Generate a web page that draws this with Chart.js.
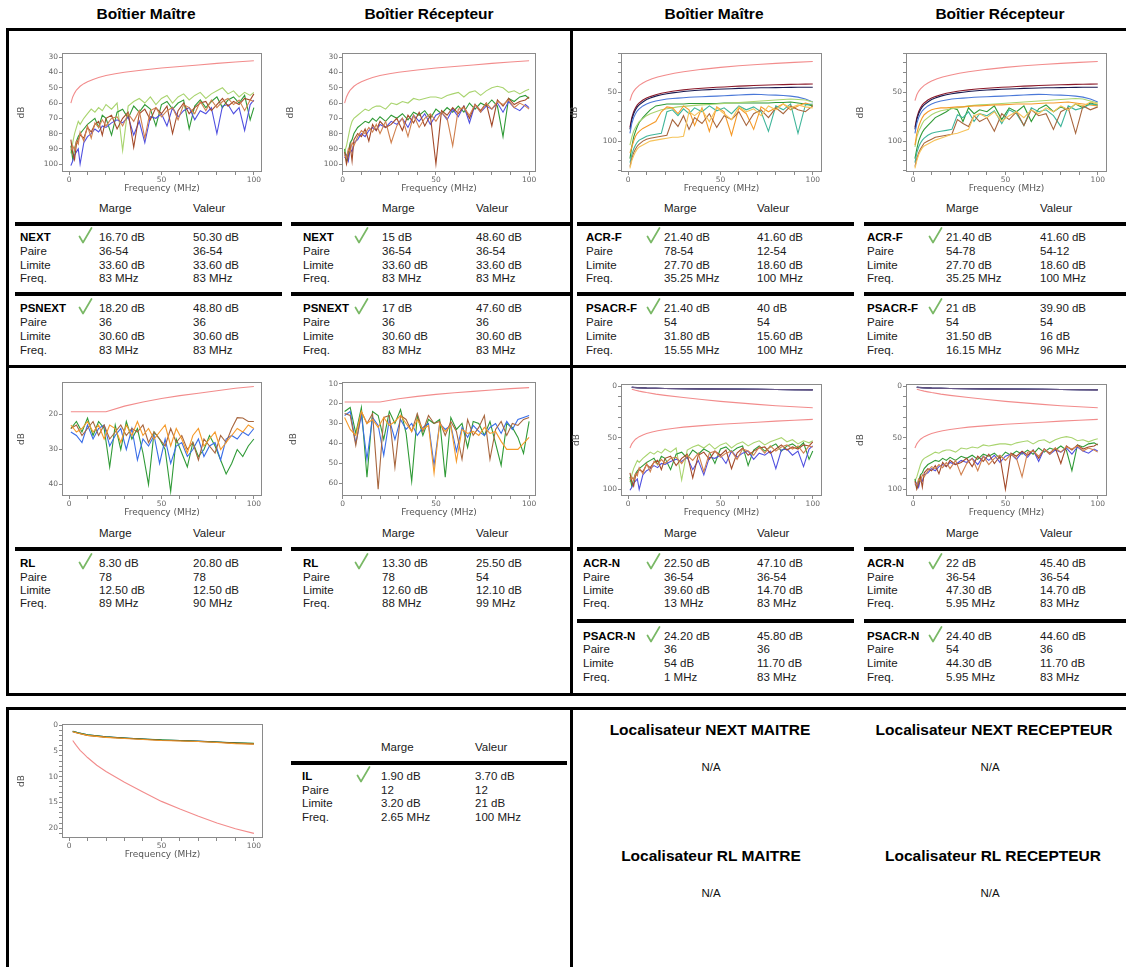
<!DOCTYPE html>
<html>
<head>
<meta charset="utf-8">
<title>Rapport de certification</title>
<script src="https://cdn.jsdelivr.net/npm/chart.js@4.4.1/dist/chart.umd.min.js"></script>
<style>
  body { margin: 0; width: 1126px; height: 967px; position: relative; overflow: hidden; background: #fff; font-family: "Liberation Sans", Arial, sans-serif; color: #111; }
  .t { position: absolute; white-space: nowrap; font-size: 11.5px; line-height: 14px; color: #1a1a1a; }
  .b { font-weight: bold; color: #000; }
  .h { position: absolute; white-space: nowrap; font-weight: bold; font-size: 15.5px; line-height: 18px; transform: translateX(-50%); color: #000; }
  .na { position: absolute; white-space: nowrap; font-size: 11.5px; line-height: 14px; transform: translateX(-50%); }
  .bar { position: absolute; background: #000; }
  canvas { position: absolute; }
</style>
</head>
<body>
<script>
// ---------- data ----------
// frequency grids (MHz)
var nextFreq = [1, 2, 3, 4, 5, 6, 8, 10, 12, 14, 16, 18, 20, 23, 26, 29, 32, 35, 38, 41, 44, 47, 50, 53, 56, 59, 62, 65, 68, 71, 74, 77, 80, 83, 86, 89, 92, 95, 98, 100];
var acrfFreq = [1, 2, 3, 4, 5, 6, 8, 10, 12, 15, 18, 21, 24, 27, 30, 33, 36, 40, 44, 48, 52, 56, 60, 64, 68, 72, 76, 80, 84, 88, 92, 96, 100];
var rlFreq = [1, 4, 7, 10, 13, 16, 19, 22, 25, 28, 31, 34, 37, 40, 43, 46, 49, 52, 55, 58, 61, 64, 67, 70, 73, 76, 79, 82, 85, 88, 91, 94, 97, 100];
var ilFreq = [2, 5, 10, 20, 30, 40, 50, 60, 70, 80, 90, 100];
var limFreq = [1, 2, 3, 4, 6, 8, 10, 13, 16, 20, 25, 30, 40, 50, 60, 70, 80, 90, 100];
var rlLimFreq = [1, 20, 30, 40, 50, 60, 70, 80, 90, 100];
var ilLimFreq = [2, 3, 4, 6, 8, 10, 15, 20, 30, 40, 50, 60, 70, 80, 90, 100];

// limits (dB)
var nextLimit = [60, 56, 53.5, 51.5, 49, 47.3, 46, 44.5, 43.3, 42, 40.8, 39.8, 38.3, 37, 36, 35.1, 34, 33.1, 32.3];
var acrfLimit = [58.6, 52.6, 49.1, 46.6, 43, 40.5, 38.6, 36.3, 34.5, 32.6, 30.6, 29.1, 26.6, 24.6, 23, 21.7, 20.5, 19.5, 18.6];
var rlLimit = [19.2, 19.2, 17.6, 16.4, 15.4, 14.6, 13.9, 13.2, 12.5, 12];
var ilLimit = [3, 3.5, 4, 4.9, 5.6, 6.3, 7.8, 9, 11.1, 13, 14.8, 16.3, 17.7, 19, 20.1, 21];

// NEXT, boitier maitre
var nextM_lgreen = [93, 86, 80, 76, 72, 74, 70, 67, 64, 66, 63, 65, 61, 64, 60, 91, 62, 59, 57, 60, 56, 61, 57, 55, 60, 56, 54, 58, 55, 53, 57, 54, 52, 50, 54, 52, 56, 53, 55, 53];
var nextM_green = [88, 97, 90, 85, 82, 80, 77, 74, 72, 70, 76, 68, 70, 81, 66, 64, 70, 62, 66, 61, 64, 75, 61, 59, 64, 60, 58, 77, 62, 58, 63, 59, 56, 63, 58, 56, 60, 55, 71, 63];
var nextM_brown = [84, 93, 97, 87, 84, 81, 83, 76, 79, 74, 72, 81, 70, 68, 77, 70, 66, 89, 67, 64, 71, 63, 67, 62, 80, 65, 60, 67, 63, 60, 59, 65, 61, 57, 62, 59, 61, 57, 58, 54];
var nextM_tan = [91, 88, 91, 85, 87, 79, 85, 75, 83, 73, 76, 71, 75, 70, 69, 75, 67, 72, 65, 83, 65, 63, 69, 65, 63, 71, 61, 63, 67, 59, 65, 58, 63, 59, 57, 61, 58, 65, 58, 59];
var nextM_blue = [101, 98, 94, 92, 90, 100, 86, 82, 80, 77, 79, 75, 76, 73, 71, 73, 69, 81, 72, 86, 69, 70, 67, 75, 63, 69, 65, 63, 71, 65, 67, 63, 80, 62, 61, 67, 63, 78, 61, 58];

// NEXT, boitier recepteur
var nextR_lgreen = [92, 88, 82, 76, 72, 70, 68, 66, 64, 65, 63, 62, 62, 64, 60, 61, 59, 60, 57, 58, 57, 56, 56, 57, 55, 54, 53, 56, 53, 52, 55, 52, 50, 49, 50, 53, 52, 54, 52, 51];
var nextR_green = [90, 98, 92, 86, 84, 80, 76, 74, 72, 73, 70, 72, 69, 72, 68, 70, 67, 71, 66, 68, 65, 70, 64, 67, 63, 66, 62, 66, 60, 64, 60, 62, 58, 62, 82, 57, 59, 56, 55, 57];
var nextR_brown = [92, 100, 95, 88, 98, 84, 80, 82, 77, 85, 74, 78, 72, 76, 74, 70, 78, 68, 73, 66, 75, 68, 100, 65, 68, 63, 67, 62, 70, 61, 65, 60, 75, 58, 62, 57, 61, 59, 58, 56];
var nextR_tan = [94, 96, 90, 92, 86, 88, 82, 78, 80, 76, 79, 74, 80, 72, 86, 75, 70, 82, 68, 76, 70, 67, 72, 66, 70, 88, 64, 63, 68, 61, 66, 60, 64, 59, 61, 58, 63, 60, 62, 64];
var nextR_blue = [96, 94, 98, 90, 92, 86, 84, 80, 82, 78, 76, 78, 74, 76, 72, 74, 70, 76, 68, 72, 67, 74, 68, 66, 71, 64, 69, 62, 73, 61, 66, 62, 64, 60, 66, 59, 63, 65, 61, 63];

// ACR-F, boitier maitre
var acrf_darkred = [86, 76, 70, 66, 63, 61, 58, 56, 54.5, 52.5, 51, 50, 49, 48.2, 47.6, 47, 46.5, 46, 45.5, 45, 44.6, 44.2, 43.8, 43.5, 43.2, 42.9, 42.6, 42.4, 42.2, 42, 41.9, 41.7, 41.6];
var acrf_navy = [88, 78, 72, 68, 65, 63, 60, 57.5, 56, 54, 52.6, 51.6, 50.7, 50, 49.3, 48.8, 48.3, 47.8, 47.4, 47, 46.7, 46.4, 46.1, 45.9, 45.7, 45.5, 45.4, 45.3, 45.2, 45.1, 45, 45, 44.9];
var acrf_blue = [92, 82, 76, 72, 69, 67, 64, 62, 60.5, 59, 58, 57, 56.5, 56, 55.6, 55.2, 54.9, 54.6, 54.3, 54, 53.6, 53.2, 52.8, 52.5, 52.2, 52.4, 52.8, 53, 53.4, 54, 55, 57, 60];
var acrf_green = [118, 106, 96, 90, 85, 81, 76, 72, 68, 64, 63, 62, 62, 62, 62, 61.5, 61.5, 61.5, 61.5, 61.5, 61, 61, 61, 61, 61, 61, 61, 60.5, 60.5, 60, 61, 62, 64];
var acrf_lgreen = [104, 96, 90, 86, 83, 80, 77, 74, 72, 70, 68, 67, 66, 65, 64.5, 64, 63.5, 63, 62.5, 62, 61.5, 61, 60.5, 60, 59.5, 59, 58.5, 58, 57.5, 57, 57.5, 58, 60];
var acrf_orange = [112, 106, 100, 95, 92, 90, 87, 85, 83, 80, 70, 65, 66, 72, 64, 68, 84, 66, 90, 65, 70, 94, 66, 72, 88, 65, 70, 66, 62, 68, 64, 61, 63];
var acrf_teal = [122, 114, 108, 104, 101, 99, 97, 95, 94, 93, 92, 70, 68, 74, 67, 72, 66, 70, 64, 69, 66, 72, 64, 68, 65, 70, 90, 64, 68, 62, 92, 63, 62];
var acrf_brown = [126, 118, 112, 108, 105, 103, 100, 98, 97, 96, 95, 94, 78, 85, 74, 88, 76, 82, 72, 86, 74, 78, 70, 84, 72, 68, 76, 66, 72, 64, 68, 70, 64];
var acrf_yellow = [128, 120, 115, 111, 108, 106, 104, 102, 100, 99, 98, 97, 96, 96, 95, 70, 74, 68, 80, 66, 72, 78, 65, 70, 67, 74, 64, 68, 62, 66, 63, 65, 66];

// ACR-F, boitier recepteur
var acrfR_orange = [104, 92, 85, 80, 76, 73, 70, 68, 67, 66, 66, 65.5, 65, 65, 64.5, 64, 64, 63.5, 63, 63, 62.5, 62, 62, 62, 61.5, 61, 61, 60.5, 60, 61, 62, 63, 64];
var acrfR_green = [118, 108, 100, 95, 91, 88, 84, 80, 76, 73, 70, 66, 68, 80, 66, 72, 68, 70, 64, 78, 66, 70, 64, 80, 67, 63, 70, 65, 68, 62, 66, 61, 63];
var acrfR_teal = [122, 112, 106, 102, 99, 97, 94, 92, 91, 90, 89, 88, 73, 76, 70, 80, 72, 74, 69, 82, 68, 72, 84, 66, 70, 68, 74, 85, 64, 68, 66, 62, 63];
var acrfR_brown = [126, 118, 112, 108, 105, 102, 100, 98, 96, 95, 94, 93, 78, 82, 85, 74, 80, 76, 90, 72, 78, 70, 84, 68, 74, 72, 88, 70, 66, 92, 64, 68, 65];
var acrfR_yellow = [128, 120, 114, 110, 107, 105, 103, 101, 99, 97, 95, 93, 92, 90, 88, 74, 72, 76, 70, 80, 74, 70, 76, 68, 72, 66, 70, 64, 68, 62, 64, 60, 62];
var acrfR_lgreen = [106, 96, 90, 86, 82, 79, 76, 73, 71, 69, 68, 67, 66, 65, 64, 63.5, 63, 62.5, 62, 61.5, 61, 60.5, 60, 59.5, 59, 58.5, 58, 57.5, 57, 56.5, 57, 59, 61];

// RL
var rlM_green = [24, 22, 25, 21, 26, 22, 24, 35, 23, 30, 22, 27, 24, 31, 40, 25, 27, 30, 42, 27, 31, 35, 28, 32, 30, 26, 29, 33, 37, 34, 30, 32, 29, 27];
var rlM_blue = [25, 26, 28, 23, 27, 24, 23, 29, 26, 24, 30, 24, 33, 27, 29, 26, 34, 27, 34, 29, 28, 32, 30, 27, 32, 29, 28, 33, 27, 26, 27, 25, 26, 24];
var rlM_orange = [23, 25, 24, 22, 25, 23, 27, 23, 24, 28, 23, 26, 22, 26, 24, 27, 25, 23, 29, 24, 27, 31, 26, 24, 29, 27, 25, 30, 28, 26, 24, 25, 23, 24];
var rlM_brown = [24, 23, 26, 24, 22, 26, 23, 27, 25, 23, 26, 24, 25, 23, 28, 25, 27, 29, 24, 28, 26, 30, 28, 33, 27, 29, 31, 26, 28, 24, 20.9, 21, 22, 22];
var rlR_green = [24, 22, 35, 22, 57, 24, 26, 38, 24, 30, 23, 35, 59, 26, 36, 28, 30, 28, 57, 27, 33, 30, 42, 29, 30, 36, 29, 40, 51, 30, 32, 37, 45, 29];
var rlR_brown = [25, 26, 41, 24, 30, 25, 63, 27, 26, 52, 26, 28, 34, 25, 34, 26, 30, 29, 36, 29, 34, 48, 28, 36, 32, 26, 48, 33, 29, 36, 30, 31, 28, 27];
var rlR_blue = [26, 24, 40, 26, 48, 27, 31, 46, 28, 38, 28, 33, 30, 36, 32, 30, 51, 30, 33, 31, 44, 32, 37, 31, 34, 36, 32, 30, 35, 29, 33, 28, 27, 26];
var rlR_orange = [27, 33, 36, 24, 30, 28, 32, 27, 31, 29, 26, 30, 34, 28, 33, 31, 55, 30, 34, 31, 49, 33, 35, 34, 36, 32, 35, 34, 39, 43, 43, 43, 40, 37];

// IL
var il_blue = [1.2, 1.5, 1.9, 2.3, 2.5, 2.7, 2.9, 3, 3.1, 3.3, 3.5, 3.6];
var il_green = [1.2, 1.5, 1.9, 2.3, 2.5, 2.7, 2.85, 3, 3.15, 3.3, 3.45, 3.55];
var il_orange = [1.3, 1.6, 2, 2.4, 2.6, 2.8, 3, 3.1, 3.2, 3.4, 3.6, 3.7];
var il_brown = [1.3, 1.6, 2, 2.35, 2.55, 2.75, 2.95, 3.05, 3.2, 3.35, 3.5, 3.65];

// result tables: [test, marge, valeur, paire M, paire V, limite M, limite V, freq M, freq V]
var rowNames = ['Paire', 'Limite', 'Freq.'];
var nextMTab = [['NEXT', '16.70 dB', '50.30 dB', '36-54', '36-54', '33.60 dB', '33.60 dB', '83 MHz', '83 MHz'],
                ['PSNEXT', '18.20 dB', '48.80 dB', '36', '36', '30.60 dB', '30.60 dB', '83 MHz', '83 MHz']];
var nextRTab = [['NEXT', '15 dB', '48.60 dB', '36-54', '36-54', '33.60 dB', '33.60 dB', '83 MHz', '83 MHz'],
                ['PSNEXT', '17 dB', '47.60 dB', '36', '36', '30.60 dB', '30.60 dB', '83 MHz', '83 MHz']];
var acrfMTab = [['ACR-F', '21.40 dB', '41.60 dB', '78-54', '12-54', '27.70 dB', '18.60 dB', '35.25 MHz', '100 MHz'],
                ['PSACR-F', '21.40 dB', '40 dB', '54', '54', '31.80 dB', '15.60 dB', '15.55 MHz', '100 MHz']];
var acrfRTab = [['ACR-F', '21.40 dB', '41.60 dB', '54-78', '54-12', '27.70 dB', '18.60 dB', '35.25 MHz', '100 MHz'],
                ['PSACR-F', '21 dB', '39.90 dB', '54', '54', '31.50 dB', '16 dB', '16.15 MHz', '96 MHz']];
var rlMTab = [['RL', '8.30 dB', '20.80 dB', '78', '78', '12.50 dB', '12.50 dB', '89 MHz', '90 MHz']];
var rlRTab = [['RL', '13.30 dB', '25.50 dB', '78', '54', '12.60 dB', '12.10 dB', '88 MHz', '99 MHz']];
var acrnMTab = [['ACR-N', '22.50 dB', '47.10 dB', '36-54', '36-54', '39.60 dB', '14.70 dB', '13 MHz', '83 MHz'],
                ['PSACR-N', '24.20 dB', '45.80 dB', '36', '36', '54 dB', '11.70 dB', '1 MHz', '83 MHz']];
var acrnRTab = [['ACR-N', '22 dB', '45.40 dB', '36-54', '36-54', '47.30 dB', '14.70 dB', '5.95 MHz', '83 MHz'],
                ['PSACR-N', '24.40 dB', '44.60 dB', '54', '36', '44.30 dB', '11.70 dB', '5.95 MHz', '83 MHz']];
var ilTab = [['IL', '1.90 dB', '3.70 dB', '12', '12', '3.20 dB', '21 dB', '2.65 MHz', '100 MHz']];

var colTitles = ['Boîtier Maître', 'Boîtier Récepteur', 'Boîtier Maître', 'Boîtier Récepteur'];
var locTitles = ['Localisateur NEXT MAITRE', 'Localisateur NEXT RECEPTEUR', 'Localisateur RL MAITRE', 'Localisateur RL RECEPTEUR'];

// ---------- colours ----------
var PINK = '#f28c8c', LGREEN = '#a9d46f', GREEN = '#2f9a36', BROWN = '#a34a2a', TAN = '#d0804f',
    PURPLE = '#5050e0', BLUE = '#3a6ee8', ORANGE = '#f59a2a', DARKRED = '#8b1a2a', NAVY = '#1a1a50',
    ABLUE = '#4a78d8', TEAL = '#3fb59a', YELLOW = '#f6c35a', ABROWN = '#a8663e';

// ---------- helpers ----------
function pts(xs, ys) { return ys.map(function (v, i) { return {x: xs[i], y: v}; }); }
function line(xs, ys, color) { return {data: pts(xs, ys), borderColor: color, borderWidth: 1.1, pointRadius: 0, fill: false, tension: 0}; }

Chart.defaults.font.family = '"DejaVu Sans", Verdana, sans-serif';

var AXW = 60, XAH = 22;
var boxFrame = {
  id: 'boxFrame',
  afterDraw: function (c) {
    var a = c.chartArea, ctx = c.ctx;
    ctx.save();
    ctx.strokeStyle = '#8a8a8a';
    ctx.lineWidth = 1;
    ctx.strokeRect(Math.round(a.left) + 0.5, Math.round(a.top) + 0.5, Math.round(a.right - a.left) - 1, Math.round(a.bottom - a.top) - 1);
    ctx.restore();
  }
};

// f = plot frame [left, top, right, bottom], xr = [min, max], yr = [min, max, step, labelEvery]
function plot(f, xr, yr, dbX, sets) {
  var cv = document.createElement('canvas');
  var cl = f[0] - AXW, ct = f[1] - 8;
  var w = f[2] - cl + 8, h = f[3] - ct + XAH + 4;
  cv.width = w; cv.height = h;
  cv.style.left = cl + 'px'; cv.style.top = ct + 'px';
  document.body.appendChild(cv);
  new Chart(cv, {
    type: 'line',
    data: {datasets: sets},
    options: {
      responsive: false, animation: false, events: [],
      layout: {padding: {top: 8, right: 8, bottom: 4, left: 0}},
      plugins: {legend: {display: false}, tooltip: {enabled: false}},
      scales: {
        x: {
          type: 'linear', min: xr[0], max: xr[1],
          afterFit: function (s) { s.height = XAH; },
          grid: {drawOnChartArea: false, tickLength: 3, color: '#8a8a8a'},
          border: {display: false},
          ticks: {stepSize: 10, includeBounds: false, autoSkip: false, maxRotation: 0, padding: 1, color: '#666', font: {size: 7.5},
            callback: function (v) { return Math.round(v) % 50 === 0 ? Math.round(v) : ''; }},
          title: {display: true, text: 'Frequency (MHz)', color: '#555', font: {size: 9}, padding: 0}
        },
        y: {
          type: 'linear', reverse: true, min: yr[0], max: yr[1],
          afterFit: function (s) { s.width = AXW; },
          grid: {drawOnChartArea: false, tickLength: 3, color: '#8a8a8a'},
          border: {display: false},
          ticks: {stepSize: yr[2], includeBounds: false, autoSkip: false, padding: 1, color: '#666', font: {size: 7.5},
            callback: function (v) { var r = Math.round(v); return r % yr[3] === 0 ? r : ''; }},
          title: {display: true, text: 'dB', color: '#555', font: {size: 9}, padding: {top: dbX - cl - 5.4, bottom: 0}}
        }
      }
    },
    plugins: [boxFrame]
  });
}

function bar(x, y, w, h) {
  var d = document.createElement('div');
  d.className = 'bar';
  d.style.cssText = 'left:' + x + 'px;top:' + y + 'px;width:' + w + 'px;height:' + h + 'px';
  document.body.appendChild(d);
}
function txt(x, y, s, cls) {
  var d = document.createElement('div');
  d.className = cls || 't';
  d.textContent = s;
  d.style.left = x + 'px';
  d.style.top = (y - 7) + 'px';
  document.body.appendChild(d);
}
function check(x, y) {
  var s = document.createElementNS('http://www.w3.org/2000/svg', 'svg');
  s.setAttribute('width', 15); s.setAttribute('height', 17);
  s.style.cssText = 'position:absolute;left:' + x + 'px;top:' + (y - 10) + 'px';
  s.innerHTML = '<path d="M1.5 9.5 L5 15.5 L13.5 1" fill="none" stroke="#79b865" stroke-width="1.7" stroke-linecap="round" stroke-linejoin="round"/>';
  document.body.appendChild(s);
}
// c = [lineLeft, lineRight, labelX, col1X, col2X, checkX]
function table(groups, c, head, lines, rows) {
  txt(c[3], head, 'Marge');
  txt(c[4], head, 'Valeur');
  groups.forEach(function (g, k) {
    bar(c[0], lines[k] - 2, c[1] - c[0], 4);
    var r = rows[k];
    txt(c[2], r[0], g[0], 't b');
    check(c[5], r[0]);
    txt(c[3], r[0], g[1]);
    txt(c[4], r[0], g[2]);
    for (var i = 0; i < 3; i++) {
      txt(c[2], r[i + 1], rowNames[i]);
      txt(c[3], r[i + 1], g[3 + 2 * i]);
      txt(c[4], r[i + 1], g[4 + 2 * i]);
    }
  });
}

// ---------- frame ----------
[146, 429, 714, 1000].forEach(function (cx, i) { txt(cx, 12, colTitles[i], 'h'); });
bar(6, 28, 1120, 3);
bar(6, 28, 3, 668);
bar(570, 28, 3, 668);
bar(6, 365, 1120, 3);
bar(6, 693, 1120, 3);
bar(6, 707, 1120, 3);
bar(6, 707, 3, 260);
bar(570, 707, 3, 260);

// ---------- charts ----------
var xL = [-3.8, 104.4], xL2 = [-0.4, 103.7], xR = [-3.85, 105];
var yNext = [27.2, 105.2, 10, 10], yAcrf = [9.9, 131.6, 10, 50], yAcrn = [-2, 106.5, 10, 50];

function nextMSets() {
  return [line(nextFreq, nextM_tan, TAN), line(nextFreq, nextM_brown, BROWN), line(nextFreq, nextM_blue, PURPLE),
          line(nextFreq, nextM_green, GREEN), line(nextFreq, nextM_lgreen, LGREEN)];
}
function nextRSets() {
  return [line(nextFreq, nextR_tan, TAN), line(nextFreq, nextR_brown, BROWN), line(nextFreq, nextR_blue, PURPLE),
          line(nextFreq, nextR_green, GREEN), line(nextFreq, nextR_lgreen, LGREEN)];
}
function ilSets() {
  return [line(ilFreq, il_orange, ORANGE), line(ilFreq, il_brown, '#6b4a2a'), line(ilFreq, il_green, GREEN), line(ilFreq, il_blue, '#2a4aa0')];
}
// same insertion loss curves as they appear on the ACR-N plots (dark tones)
function ilDarkSets() {
  return [line(ilFreq, il_orange, '#6a5a8a'), line(ilFreq, il_brown, '#4a3a6a'), line(ilFreq, il_green, '#3a5a7a'), line(ilFreq, il_blue, '#3a3a9a')];
}

plot([62, 53, 262, 172], xL, yNext, 22, nextMSets().concat([line(limFreq, nextLimit, PINK)]));
plot([342, 53, 536, 172], xL2, yNext, 291, nextRSets().concat([line(limFreq, nextLimit, PINK)]));

plot([621, 53, 822, 172], xR, yAcrf, 575, [
  line(acrfFreq, acrf_yellow, YELLOW), line(acrfFreq, acrf_brown, ABROWN), line(acrfFreq, acrf_teal, TEAL),
  line(acrfFreq, acrf_orange, ORANGE), line(acrfFreq, acrf_lgreen, LGREEN), line(acrfFreq, acrf_green, GREEN),
  line(acrfFreq, acrf_blue, ABLUE), line(acrfFreq, acrf_navy, NAVY), line(acrfFreq, acrf_darkred, DARKRED),
  line(limFreq, acrfLimit, PINK)]);
plot([906, 53, 1107, 172], xR, yAcrf, 861, [
  line(acrfFreq, acrfR_yellow, YELLOW), line(acrfFreq, acrfR_brown, ABROWN), line(acrfFreq, acrfR_teal, TEAL),
  line(acrfFreq, acrfR_orange, ORANGE), line(acrfFreq, acrfR_lgreen, LGREEN), line(acrfFreq, acrfR_green, GREEN),
  line(acrfFreq, acrf_blue, ABLUE), line(acrfFreq, acrf_navy, NAVY), line(acrfFreq, acrf_darkred, DARKRED),
  line(limFreq, acrfLimit, PINK)]);

plot([62, 382, 262, 496], xL, [10.7, 43.3, 10, 10], 22, [
  line(rlFreq, rlM_orange, ORANGE), line(rlFreq, rlM_brown, ABROWN), line(rlFreq, rlM_blue, BLUE),
  line(rlFreq, rlM_green, GREEN), line(rlLimFreq, rlLimit, PINK)]);
plot([342, 382, 536, 496], xL2, [9.2, 66.4, 10, 10], 294, [
  line(rlFreq, rlR_orange, ORANGE), line(rlFreq, rlR_brown, ABROWN), line(rlFreq, rlR_blue, BLUE),
  line(rlFreq, rlR_green, GREEN), line(rlLimFreq, rlLimit, PINK)]);

plot([621, 384, 822, 496], xR, yAcrn, 577, nextMSets().concat(ilDarkSets(), [line(limFreq, nextLimit, PINK), line(ilLimFreq, ilLimit, PINK)]));
plot([906, 384, 1107, 496], xR, yAcrn, 861, nextRSets().concat(ilDarkSets(), [line(limFreq, nextLimit, PINK), line(ilLimFreq, ilLimit, PINK)]));

plot([62, 724, 263, 838], [-3.8, 104.9], [-0.2, 21.9, 1, 5], 22, ilSets().concat([line(ilLimFreq, ilLimit, PINK)]));

// ---------- tables ----------
var T1 = [15, 282, 20, 99, 193, 78], T2 = [291, 570, 303, 382, 476, 354],
    T3 = [577, 854, 586, 664, 757, 646], T4 = [864, 1126, 867, 946, 1040, 928];
var r1 = [[237, 251, 264.5, 278], [308, 322, 335.5, 349.5]];
var r2 = [[562.5, 577, 590, 603], [636, 649, 663, 677]];
table(nextMTab, T1, 208, [224, 294], r1);
table(nextRTab, T2, 208, [224, 294], r1);
table(acrfMTab, T3, 208, [224, 294], r1);
table(acrfRTab, T4, 208, [224, 294], r1);
table(rlMTab, T1, 533, [549], r2);
table(rlRTab, T2, 533, [549], r2);
table(acrnMTab, [577, 854, 583, 664, 757, 646], 533, [549, 621], r2);
table(acrnRTab, T4, 533, [549, 621], r2);
table(ilTab, [291, 567, 302, 381, 475, 356], 747, [763], [[776, 790, 803, 817]]);

// ---------- localisateurs ----------
txt(710, 728, locTitles[0], 'h');
txt(994, 728, locTitles[1], 'h');
txt(711, 854, locTitles[2], 'h');
txt(993, 854, locTitles[3], 'h');
[[711, 767], [990, 767], [711, 893], [990, 893]].forEach(function (p) { txt(p[0], p[1], 'N/A', 'na'); });
</script>
</body>
</html>
